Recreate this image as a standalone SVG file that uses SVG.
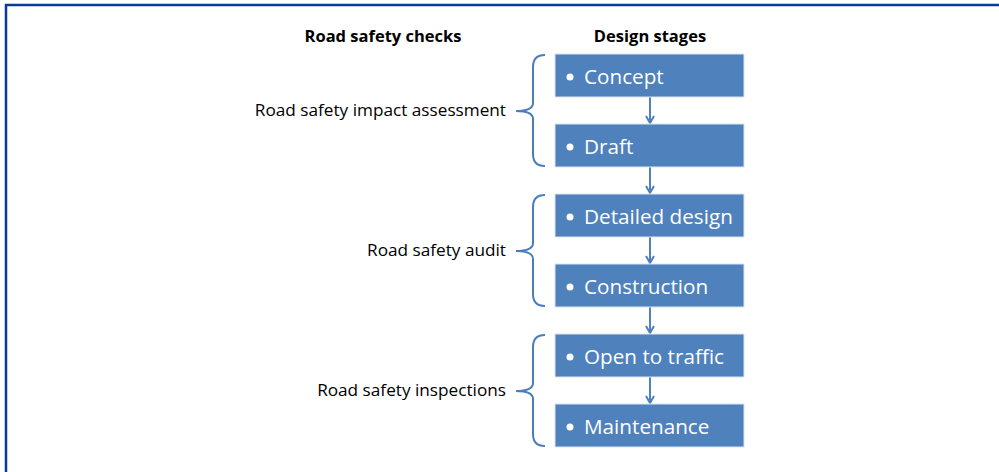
<svg xmlns="http://www.w3.org/2000/svg" width="999" height="472" viewBox="0 0 999 472">
<style>
.box{fill:#4f81bd;stroke:#dbe5f1;stroke-width:1}
.lbl{font-family:"Open Sans","Liberation Sans",sans-serif;font-size:20.7px;fill:#ffffff}
.bul{fill:#ffffff}
.chk{font-family:"Open Sans","Liberation Sans",sans-serif;font-size:17.2px;fill:#000000;text-anchor:end}
.hdr{font-family:"Open Sans","Liberation Sans",sans-serif;font-size:16.5px;font-weight:bold;fill:#000000;text-anchor:middle}
.br{fill:none;stroke:#4a7ebb;stroke-width:2}
.con{stroke:#4f81bd;stroke-width:2;fill:none}
</style>
<defs>
<marker id="ah" markerWidth="10" markerHeight="10" refX="8" refY="5" orient="auto" markerUnits="userSpaceOnUse">
<path d="M1,1 L8,5 L1,9" fill="none" stroke="#4f81bd" stroke-width="2"/>
</marker>
</defs>
<rect x="0" y="0" width="999" height="472" fill="#ffffff"/>
<path d="M6,472 V5 H999" fill="none" stroke="#0a3a94" stroke-width="2.5"/>
<text class="hdr" x="383" y="42">Road safety checks</text>
<text class="hdr" x="650" y="42">Design stages</text>
<g id="connectors">
<line class="con" x1="650" y1="97" x2="650" y2="123" marker-end="url(#ah)"/>
<line class="con" x1="650" y1="167" x2="650" y2="193" marker-end="url(#ah)"/>
<line class="con" x1="650" y1="237" x2="650" y2="263" marker-end="url(#ah)"/>
<line class="con" x1="650" y1="307" x2="650" y2="333" marker-end="url(#ah)"/>
<line class="con" x1="650" y1="377" x2="650" y2="403" marker-end="url(#ah)"/>
</g>
<g id="concept"><rect class="box" x="555" y="54" width="189" height="43"/><circle class="bul" cx="570" cy="77" r="3.5"/><text class="lbl" x="584" y="84">Concept</text></g>
<g id="draft"><rect class="box" x="555" y="124" width="189" height="43"/><circle class="bul" cx="570" cy="147" r="3.5"/><text class="lbl" x="584" y="154">Draft</text></g>
<g id="detailed"><rect class="box" x="555" y="194" width="189" height="43"/><circle class="bul" cx="570" cy="217" r="3.5"/><text class="lbl" x="584" y="224">Detailed design</text></g>
<g id="construction"><rect class="box" x="555" y="264" width="189" height="43"/><circle class="bul" cx="570" cy="287" r="3.5"/><text class="lbl" x="584" y="294">Construction</text></g>
<g id="open"><rect class="box" x="555" y="334" width="189" height="43"/><circle class="bul" cx="570" cy="357" r="3.5"/><text class="lbl" x="584" y="364">Open to traffic</text></g>
<g id="maintenance"><rect class="box" x="555" y="404" width="189" height="43"/><circle class="bul" cx="570" cy="427" r="3.5"/><text class="lbl" x="584" y="434">Maintenance</text></g>
<g id="impact"><path class="br" d="M545,55 Q533,55 533,67 V103 Q533,111 516,111 Q533,111 533,119 V154 Q533,166 545,166"/><text class="chk" x="506" y="116">Road safety impact assessment</text></g>
<g id="audit"><path class="br" d="M545,195 Q533,195 533,207 V243 Q533,251 516,251 Q533,251 533,259 V294 Q533,306 545,306"/><text class="chk" x="506" y="256">Road safety audit</text></g>
<g id="inspections"><path class="br" d="M545,335 Q533,335 533,347 V383 Q533,391 516,391 Q533,391 533,399 V434 Q533,446 545,446"/><text class="chk" x="506" y="396">Road safety inspections</text></g>
</svg>
